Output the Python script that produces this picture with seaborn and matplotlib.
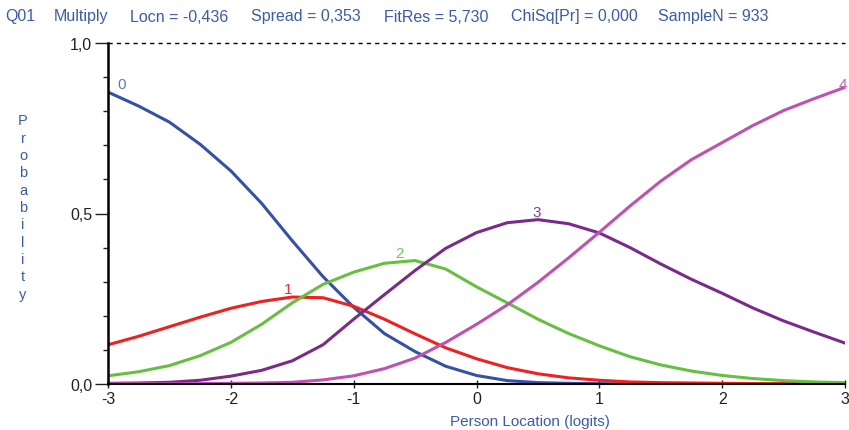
import numpy as np
import pandas as pd
import matplotlib
matplotlib.use("Agg")
import matplotlib.pyplot as plt
import seaborn as sns
from matplotlib.ticker import MultipleLocator

# ---- data ----
x_vals = [-3, -2.75, -2.5, -2.25, -2, -1.75, -1.5, -1.25, -1, -0.75, -0.5, -0.25,
          0, 0.25, 0.5, 0.75, 1, 1.25, 1.5, 1.75, 2, 2.25, 2.5, 2.75, 3]
cat0 = [0.856, 0.815, 0.768, 0.703, 0.625, 0.53, 0.42, 0.315, 0.225, 0.148, 0.095, 0.052,
        0.025, 0.01, 0.004, 0.002, 0.001, 0.0, 0.0, 0.0, 0.0, 0.0, 0.0, 0.0, 0.0]
cat1 = [0.115, 0.14, 0.168, 0.196, 0.222, 0.242, 0.255, 0.253, 0.228, 0.19, 0.147, 0.106,
        0.074, 0.048, 0.03, 0.018, 0.011, 0.006, 0.004, 0.003, 0.002, 0.001, 0.001, 0.001, 0.001]
cat2 = [0.024, 0.036, 0.054, 0.083, 0.122, 0.175, 0.238, 0.292, 0.328, 0.354, 0.362, 0.337,
        0.285, 0.238, 0.19, 0.148, 0.112, 0.08, 0.056, 0.038, 0.025, 0.016, 0.01, 0.006, 0.004]
cat3 = [0.002, 0.003, 0.005, 0.011, 0.023, 0.04, 0.068, 0.115, 0.19, 0.262, 0.333, 0.398,
        0.444, 0.473, 0.482, 0.47, 0.443, 0.4, 0.352, 0.307, 0.266, 0.223, 0.185, 0.152, 0.12]
cat4 = [0.001, 0.001, 0.001, 0.001, 0.002, 0.003, 0.005, 0.012, 0.024, 0.045, 0.076, 0.122,
        0.175, 0.232, 0.298, 0.37, 0.445, 0.522, 0.595, 0.658, 0.708, 0.758, 0.802, 0.837, 0.87]
categories = ["0", "1", "2", "3", "4"]
label_x = [-2.89, -1.53, -0.63, 0.49, 2.985]
label_y = [0.88, 0.278, 0.384, 0.503, 0.88]
header_items = ["Q01", "Multiply", "Locn = -0,436", "Spread = 0,353", "FitRes = 5,730",
                "ChiSq[Pr] = 0,000", "SampleN = 933"]
header_x_px = [5, 54, 130, 251, 384, 511, 658]
x_ticks = [-3, -2, -1, 0, 1, 2, 3]
y_ticks = [0.0, 0.5, 1.0]
y_ticklabels = ["0,0", "0,5", "1,0"]

colors = ["#3450A8", "#F02020", "#66C040", "#7A2A8C", "#C050B4"]
label_colors = ["#6078C0", "#F03030", "#70C850", "#8A3A9A", "#C860BC"]
text_blue = "#3A5BB0"

df = pd.DataFrame({
    "x": x_vals * 5,
    "p": cat0 + cat1 + cat2 + cat3 + cat4,
    "cat": sum([[c] * len(x_vals) for c in categories], []),
})

sns.set_style("white")
fam = ["Liberation Sans Narrow", "Liberation Sans", "DejaVu Sans"]
plt.rcParams["font.family"] = fam

W, H = 849, 431
fig = plt.figure(figsize=(W / 100, H / 100), dpi=100)
ax = fig.add_axes([108 / W, (H - 385) / H, 737 / W, 341 / H])

sns.lineplot(data=df, x="x", y="p", hue="cat", palette=dict(zip(categories, colors)),
             linewidth=2.2, legend=False, ax=ax, sort=True)
for ln in ax.get_lines():
    ln.set_solid_joinstyle("round")

ax.set_xlim(-3, 3)
ax.set_ylim(0, 1)
ax.axhline(1.0, color="black", lw=1.0, ls=(0, (3, 3)), clip_on=False)

for spine in ["top", "right"]:
    ax.spines[spine].set_visible(False)
ax.spines["left"].set_linewidth(1.8)
ax.spines["bottom"].set_linewidth(1.5)
ax.spines["left"].set_color("black")
ax.spines["bottom"].set_color("black")

ax.set_xticks(x_ticks)
ax.set_xticklabels([str(t) for t in x_ticks])
ax.set_yticks(y_ticks)
ax.set_yticklabels(y_ticklabels)
ax.yaxis.set_minor_locator(MultipleLocator(0.1))
ax.tick_params(axis="y", which="major", direction="out", length=9.5, width=1.0,
               labelsize=11.5, colors="#222222", pad=2, left=True)
ax.tick_params(axis="y", which="minor", direction="out", length=3.5, width=1.0,
               color="#222222", left=True)
ax.tick_params(axis="x", which="major", direction="inout", length=6, width=1.0,
               labelsize=11.5, colors="#222222", pad=2, bottom=True)

ax.set_xlabel("")
ax.set_ylabel("")

for c, lx, ly, lc in zip(categories, label_x, label_y, label_colors):
    ax.text(lx, ly, c, color=lc, fontsize=11, ha="center", va="center")

for t, px in zip(header_items, header_x_px):
    fig.text(px / W, 1 - 17 / H, t, color=text_blue, fontsize=11.5, ha="left", va="center")

fig.text(530 / W, 1 - 422 / H, "Person Location (logits)", color=text_blue,
         fontsize=11, ha="center", va="center")
fig.text(23 / W, 1 - 208 / H, "\n".join("Probability"), color=text_blue,
         fontsize=10.5, ha="center", va="center", linespacing=1.3)

fig.savefig("out.png", dpi=100)
